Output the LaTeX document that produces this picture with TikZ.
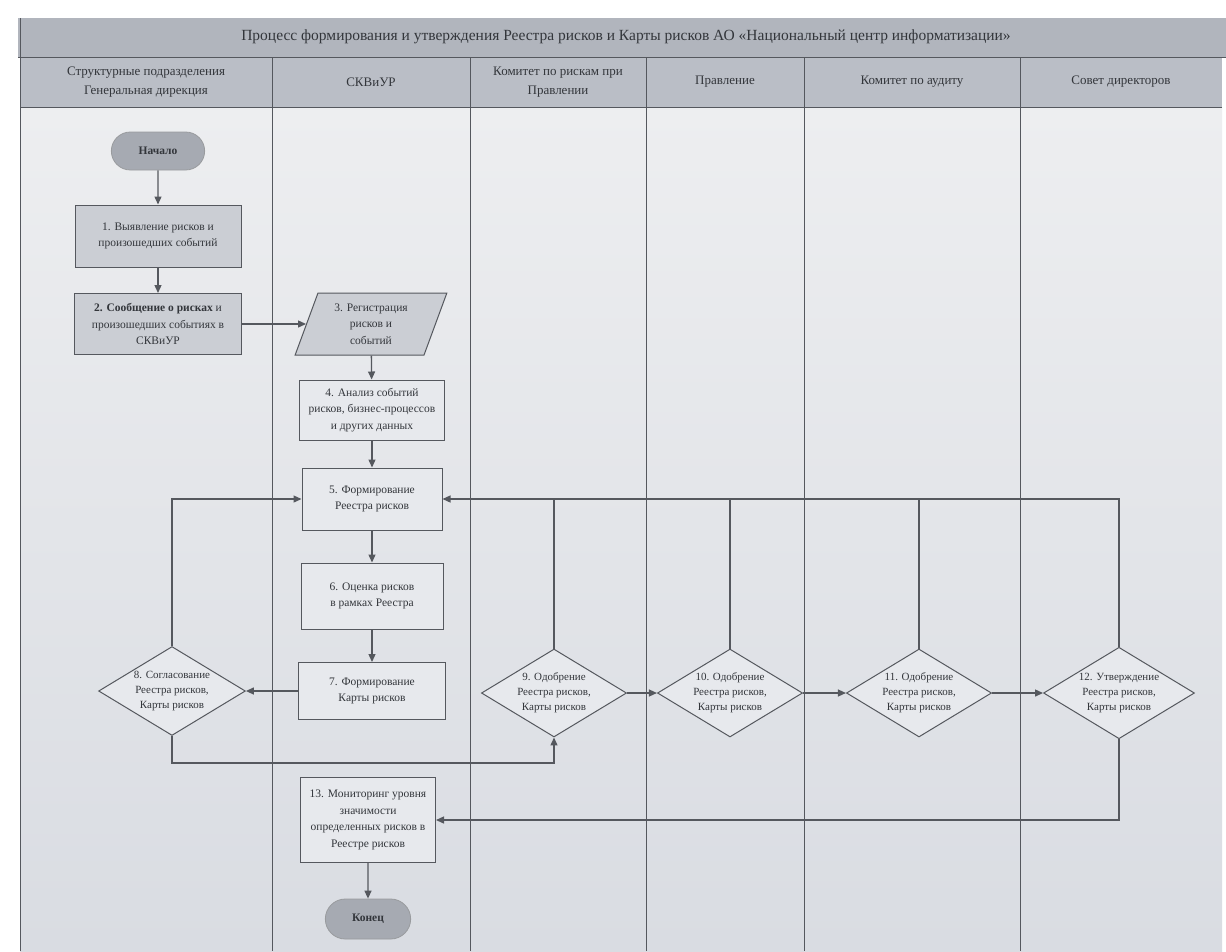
\documentclass[tikz,border=0pt]{standalone}
\usepackage{fontspec}
\setmainfont{Liberation Serif}
\usetikzlibrary{shapes.geometric,shapes.misc,arrows.meta}

\definecolor{titleband}{HTML}{B1B5BD}
\definecolor{headband}{HTML}{BABEC6}
\definecolor{pagetop}{HTML}{EDEEF0}
\definecolor{pagebottom}{HTML}{D9DCE2}
\definecolor{pillfill}{HTML}{A6AAB2}
\definecolor{darkfill}{HTML}{CBCED4}
\definecolor{lightfill}{HTML}{E7E9ED}
\definecolor{flowgray}{HTML}{55585E}
\definecolor{textgray}{HTML}{33363B}

\def \lanecolor {flowgray}
\def \lanetop {57}
\def \headbottom {107}
\def \boxfont {\fontsize{11.5}{16.5}\selectfont}
\def \diamondfont {\fontsize{11}{15}\selectfont}
\def \headfont {\fontsize{13}{19}\selectfont}
\def \titlefont {\fontsize{15.5}{19}\selectfont}

\tikzset{
  flow/.style={draw=flowgray, line width=1.3pt},
  flowarrow/.style={flow, -{Triangle[length=8pt,width=7pt]}},
  procbox/.style={draw=flowgray, line width=1pt, fill=lightfill, text=textgray, align=center, font=\boxfont, inner sep=2pt},
  darkbox/.style={procbox, fill=darkfill},
  terminal/.style={rounded rectangle, draw=flowgray!60, line width=0.8pt, fill=pillfill, text=textgray, font=\boxfont\bfseries},
  decision/.style={diamond, aspect=1.65, inner sep=1pt, draw=flowgray, line width=1pt, fill=lightfill, text=textgray, align=center, font=\diamondfont},
  inputbox/.style={trapezium, trapezium left angle=70, trapezium right angle=110, trapezium stretches=true, draw=flowgray, line width=1pt, fill=darkfill, text=textgray, align=center, font=\boxfont},
  lanehead/.style={align=center, font=\headfont, text=textgray},
}

\begin{document}
\begin{tikzpicture}[x=1pt,y=-1pt]
\useasboundingbox (0,0) rectangle (1226,951);
% Draw the page and the bands
\fill[white] (0,0) rectangle (1226,951);
\shade[top color=pagetop, bottom color=pagebottom] (20,\headbottom) rectangle (1222,951);
\fill[titleband] (18,18) rectangle (1226,\lanetop);
\fill[headband] (20,\lanetop) rectangle (1222,\headbottom);
\draw[\lanecolor, line width=0.8pt] (18,\lanetop) -- (1226,\lanetop);
\draw[\lanecolor, line width=0.8pt] (20,\headbottom) -- (1222,\headbottom);
\draw[\lanecolor, line width=0.8pt] (20,18) -- (20,951);
% Draw the lane separators
\foreach \x in {272,470,646,804,1020}
{
\draw[\lanecolor, line width=0.8pt] (\x,\lanetop) -- (\x,951);
}
% Title and lane names
\node[lanehead, font=\titlefont] (title) at (626,37) {Процесс формирования и утверждения Реестра рисков и Карты рисков АО «Национальный центр информатизации»};
\foreach \xc/\name/\txt in {146/lane1/{Структурные подразделения\\Генеральная дирекция},
  371/lane2/{СКВиУР}, 558/lane3/{Комитет по рискам при\\Правлении},
  725/lane4/{Правление}, 912/lane5/{Комитет по аудиту}, 1121/lane6/{Совет директоров}}
{
\node[lanehead] (\name) at (\xc,82) {\txt};
}

% The steps
\node[terminal, minimum width=100pt, minimum height=38pt] (start) at (158,151) {Начало};
\node[darkbox, minimum width=166pt, minimum height=62pt] (s1) at (158,236) {1. Выявление рисков и\\произошедших событий};
\node[darkbox, minimum width=167pt, minimum height=61pt] (s2) at (158,324) {\textbf{2. Сообщение о рисках} и\\произошедших событиях в\\СКВиУР};
\node[inputbox, minimum width=152pt, minimum height=62pt] (s3) at (371,324) {3. Регистрация\\рисков и\\событий};
\node[procbox, minimum width=145pt, minimum height=60pt] (s4) at (372,410) {4. Анализ событий\\рисков, бизнес-процессов\\и других данных};
\node[procbox, minimum width=140pt, minimum height=62pt] (s5) at (372,499) {5. Формирование\\Реестра рисков};
\node[procbox, minimum width=142pt, minimum height=66pt] (s6) at (372,596) {6. Оценка рисков\\в рамках Реестра};
\node[procbox, minimum width=147pt, minimum height=57pt] (s7) at (372,691) {7. Формирование\\Карты рисков};
\node[decision] (s8) at (172,691) {8. Согласование\\Реестра рисков,\\Карты рисков};
\node[decision] (s9) at (554,693) {9. Одобрение\\Реестра рисков,\\Карты рисков};
\node[decision] (s10) at (730,693) {10. Одобрение\\Реестра рисков,\\Карты рисков};
\node[decision] (s11) at (919,693) {11. Одобрение\\Реестра рисков,\\Карты рисков};
\node[decision] (s12) at (1119,693) {12. Утверждение\\Реестра рисков,\\Карты рисков};
\node[procbox, minimum width=135pt, minimum height=85pt] (s13) at (368,820) {13. Мониторинг уровня\\значимости\\определенных рисков в\\Реестре рисков};
\node[terminal, minimum width=92pt, minimum height=40pt] (stop) at (368,919) {Конец};
\coordinate (low) at (0,763);

% Draw the connectors
\draw[flowarrow] (start) -- (s1);
\draw[flowarrow] (s1) -- (s2);
\draw[flowarrow] (s2.east) -- (s3.west);
\draw[flowarrow] (s3) -- (s4);
\draw[flowarrow] (s4) -- (s5);
\draw[flowarrow] (s5) -- (s6);
\draw[flowarrow] (s6) -- (s7);
\draw[flowarrow] (s7) -- (s8);
\draw[flowarrow] (s8.north) |- (s5.west);
\draw[flowarrow] (s8.south) -- (s8.south |- low) -| (s9.south);
\draw[flowarrow] (s9) -- (s10);
\draw[flowarrow] (s10) -- (s11);
\draw[flowarrow] (s11) -- (s12);
% Draw the way back to step 5
\draw[flowarrow] (s12.north) |- (s5.east);
\draw[flow] (s9.north) -- (s9.north |- s5.east);
\draw[flow] (s10.north) -- (s10.north |- s5.east);
\draw[flow] (s11.north) -- (s11.north |- s5.east);
\draw[flowarrow] (s12.south) |- (s13.east);
\draw[flowarrow] (s13) -- (stop);
\end{tikzpicture}
\end{document}
